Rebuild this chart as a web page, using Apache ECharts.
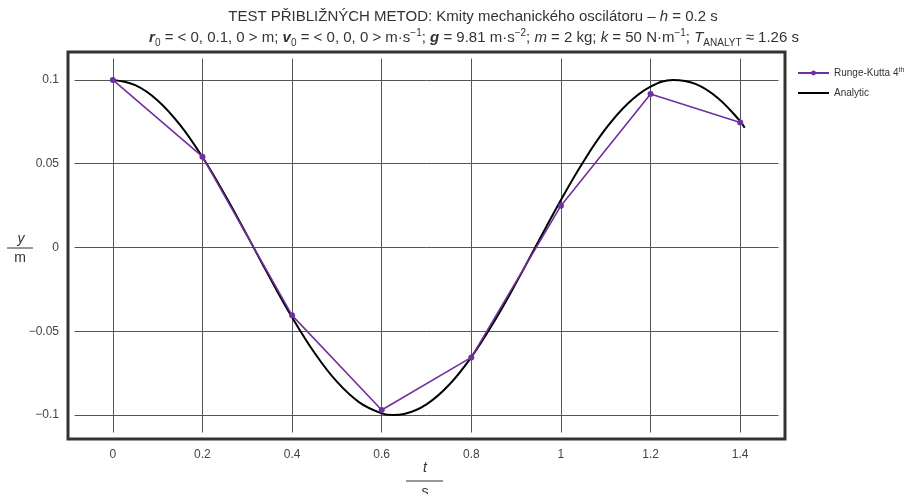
<!DOCTYPE html>
<html>
<head>
<meta charset="utf-8">
<script src="https://cdn.jsdelivr.net/npm/echarts@6/dist/echarts.min.js"></script>
<style>
  html, body { margin: 0; padding: 0; background: #fff; }
  #chart { width: 909px; height: 494px; }
</style>
</head>
<body>
<div id="chart"></div>
<script>
// Runge-Kutta 4th order, h = 0.2 s
var rkT = [0, 0.2, 0.4, 0.6, 0.8, 1.0, 1.2, 1.4];
var rkY = [0.1, 0.0542, -0.0405, -0.0970, -0.0656, 0.0250, 0.0916, 0.0746];

// analytic curve
var anT = [0, 0.05, 0.1, 0.15, 0.2, 0.25, 0.3, 0.35, 0.4, 0.45, 0.5, 0.55, 0.6, 0.625, 0.65, 0.7, 0.75,
           0.8, 0.85, 0.9, 0.95, 1.0, 1.05, 1.1, 1.15, 1.2, 1.25, 1.3, 1.35, 1.4, 1.41];
var anY = [0.1, 0.0969, 0.0878, 0.0732, 0.0540, 0.0315, 0.0071, -0.0178, -0.0416, -0.0628, -0.0801,
           -0.0924, -0.0990, -0.1, -0.0994, -0.0936, -0.0821, -0.0654, -0.0446, -0.0211, 0.0038, 0.0284,
           0.0512, 0.0709, 0.0861, 0.0960, 0.1, 0.0977, 0.0893, 0.0754, 0.0715];

var xMin = -0.1, xMax = 1.5;
var yMin = -0.1143, yMax = 0.1167;

function pairs(xs, ys) {
    var out = [];
    for (var i = 0; i < xs.length; i++) {
        out.push([xs[i], ys[i]]);
    }
    return out;
}

var purple = '#7030A0';
var font = '"Liberation Sans", Arial, sans-serif';

var box = {x: 68, y: 52, w: 717, h: 387};

var titleRich = {
    i: {fontStyle: 'italic', fontSize: 15, color: '#333', fontFamily: font, lineHeight: 20},
    bi: {fontStyle: 'italic', fontWeight: 'bold', fontSize: 15, color: '#333', fontFamily: font, lineHeight: 20},
    sub: {fontSize: 10, color: '#333', fontFamily: font, verticalAlign: 'bottom', lineHeight: 20},
    sup: {fontSize: 10, color: '#333', fontFamily: font, verticalAlign: 'top', lineHeight: 20}
};

var myChart = echarts.init(document.getElementById('chart'));
var option = {
    backgroundColor: '#fff',
    animation: false,
    grid: {
        left: box.x,
        top: box.y,
        width: box.w,
        height: box.h,
        containLabel: false
    },
    xAxis: {
        type: 'value',
        min: xMin,
        max: xMax,
        splitNumber: 8,
        axisLine: {show: false},
        axisTick: {show: false},
        axisLabel: {
            showMinLabel: false,
            showMaxLabel: false,
            margin: 10,
            fontSize: 12,
            color: '#444',
            fontFamily: font
        },
        splitLine: {lineStyle: {color: '#555', width: 1}}
    },
    yAxis: {
        type: 'value',
        min: yMin,
        max: yMax,
        splitNumber: 5,
        axisLine: {show: false},
        axisTick: {show: false},
        axisLabel: {
            showMinLabel: false,
            showMaxLabel: false,
            margin: 9,
            fontSize: 12,
            color: '#444',
            fontFamily: font,
            formatter: function (v) {
                return String(Math.round(v * 1000) / 1000).replace('-', '\u2212');
            }
        },
        splitLine: {lineStyle: {color: '#555', width: 1}}
    },
    legend: {
        orient: 'vertical',
        left: 797,
        top: 67,
        padding: 0,
        itemWidth: 31,
        itemHeight: 6,
        itemGap: 10,
        textStyle: {
            fontSize: 10,
            color: '#333',
            fontFamily: font,
            rich: {
                sup: {fontSize: 7, verticalAlign: 'top', color: '#333', fontFamily: font, lineHeight: 12}
            }
        },
        formatter: function (name) {
            if (name === 'Runge-Kutta 4th') {
                return 'Runge-Kutta 4{sup|th}';
            }
            return name;
        },
        data: [
            {name: 'Runge-Kutta 4th'},
            {name: 'Analytic', icon: 'path://M0,0 L31,0 L31,2 L0,2 Z'}
        ]
    },
    series: [
        {
            name: 'Runge-Kutta 4th',
            type: 'line',
            data: pairs(rkT, rkY),
            symbol: 'circle',
            symbolSize: 6,
            color: purple,
            lineStyle: {color: purple, width: 1.6},
            itemStyle: {color: purple},
            z: 3
        },
        {
            name: 'Analytic',
            type: 'line',
            data: pairs(anT, anY),
            showSymbol: false,
            symbol: 'none',
            smooth: 0.4,
            color: '#000',
            lineStyle: {color: '#000', width: 2},
            z: 2
        }
    ],
    graphic: [
        // white margin so grid lines stop short of the frame
        {
            type: 'rect', z: 100, silent: true,
            shape: {x: box.x, y: box.y, width: box.w, height: box.h},
            style: {fill: null, stroke: '#fff', lineWidth: 13}
        },
        {
            type: 'rect', z: 101, silent: true,
            shape: {x: box.x, y: box.y, width: box.w, height: box.h},
            style: {fill: null, stroke: '#333', lineWidth: 3}
        },
        {
            type: 'text', z: 101, x: 473, y: 17,
            style: {
                text: 'TEST PŘIBLIŽNÝCH METOD: Kmity mechanického oscilátoru – {i|h} = 0.2 s',
                fontSize: 15, fill: '#333', fontFamily: font,
                align: 'center', verticalAlign: 'middle',
                rich: titleRich
            }
        },
        {
            type: 'text', z: 101, x: 474, y: 38,
            style: {
                text: '{bi|r}{sub|0} = < 0, 0.1, 0 > m; {bi|v}{sub|0} = < 0, 0, 0 > m·s{sup|−1}; {bi|g} = 9.81 m·s{sup|−2}; {i|m} = 2 kg; {i|k} = 50 N·m{sup|−1}; {i|T}{sub|ANALYT} ≈ 1.26 s',
                fontSize: 15, fill: '#333', fontFamily: font,
                align: 'center', verticalAlign: 'middle',
                rich: titleRich
            }
        },
        // y / m
        {
            type: 'text', z: 101, x: 21, y: 239,
            style: {text: 'y', fontSize: 14, fontStyle: 'italic', fill: '#333', fontFamily: font, align: 'center', verticalAlign: 'middle'}
        },
        {
            type: 'line', z: 101,
            shape: {x1: 7, y1: 248, x2: 33, y2: 248},
            style: {stroke: '#333', lineWidth: 1}
        },
        {
            type: 'text', z: 101, x: 20, y: 258,
            style: {text: 'm', fontSize: 14, fill: '#333', fontFamily: font, align: 'center', verticalAlign: 'middle'}
        },
        // t / s
        {
            type: 'text', z: 101, x: 425, y: 468,
            style: {text: 't', fontSize: 14, fontStyle: 'italic', fill: '#333', fontFamily: font, align: 'center', verticalAlign: 'middle'}
        },
        {
            type: 'line', z: 101,
            shape: {x1: 406, y1: 481, x2: 443, y2: 481},
            style: {stroke: '#333', lineWidth: 1}
        },
        {
            type: 'text', z: 101, x: 425, y: 492,
            style: {text: 's', fontSize: 14, fill: '#333', fontFamily: font, align: 'center', verticalAlign: 'middle'}
        }
    ]
};
myChart.setOption(option);
</script>
</body>
</html>
